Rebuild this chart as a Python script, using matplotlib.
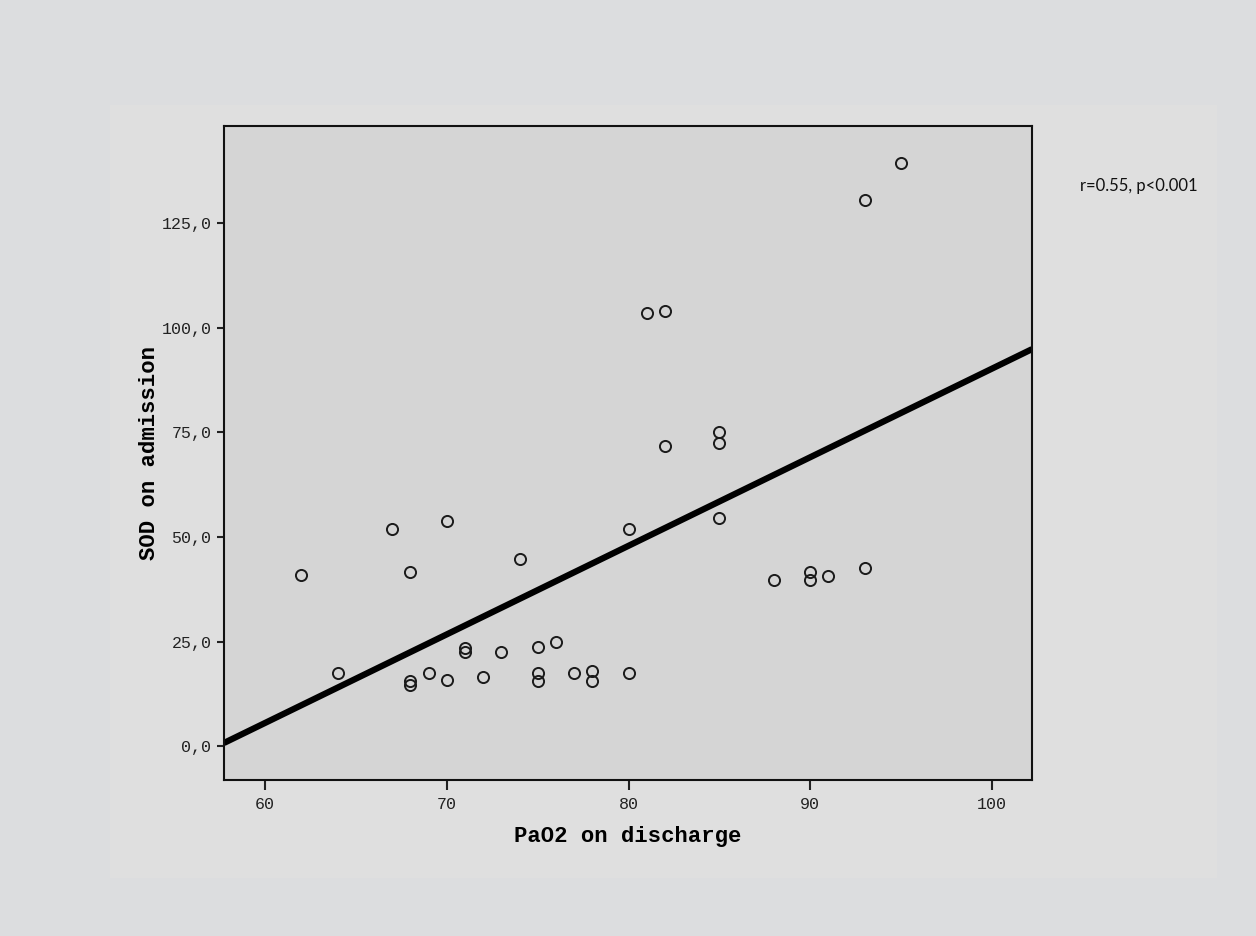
import numpy as np
import matplotlib
matplotlib.use("Agg")
import matplotlib.pyplot as plt
from matplotlib.patches import Rectangle

# values
pao2 = [62, 64, 67, 68, 68, 68, 69, 70, 70, 71, 71, 72, 73, 74, 75, 75, 75, 76,
        77, 78, 78, 80, 80, 81, 82, 82, 85, 85, 85, 88, 90, 90, 91, 93, 93, 95]
sod = [41.0, 17.5, 52.0, 41.7, 15.5, 14.6, 17.5, 53.7, 15.8, 23.5, 22.4, 16.5,
       22.5, 44.8, 23.7, 17.5, 15.5, 24.8, 17.5, 18.0, 15.5, 17.5, 51.8, 103.4,
       104.0, 71.8, 75.0, 72.5, 54.5, 39.6, 41.7, 39.8, 40.7, 42.6, 130.5, 139.4]

x_ticks = [60, 70, 80, 90, 100]
y_ticks = [0, 25, 50, 75, 100, 125]
note = "r=0.55, p<0.001"

mono = "Liberation Mono"

fig = plt.figure(figsize=(12.56, 9.36), dpi=100, facecolor="#dcdddf")
# lighter inner panel like the SPSS chart frame
fig.patches.append(Rectangle((110 / 1256, 1 - 878 / 936), 1107 / 1256, 773 / 936,
                             transform=fig.transFigure, facecolor="#dfdfdf",
                             edgecolor="none", zorder=-5))

ax = fig.add_axes([224 / 1256, 1 - 780 / 936, 808 / 1256, 654 / 936])
ax.set_facecolor("#d5d5d5")

x = np.array(pao2, dtype=float)
y = np.array(sod)
ax.plot(x, y, "o", ms=8, mfc="none", mec="#1a1a1a", mew=1.4, zorder=3)

# linear fit line across the full x range
m, b = np.polyfit(x, y, 1)
xlim = (57.74, 102.2)
xs = np.array(xlim)
ax.plot(xs, m * xs + b, color="black", lw=4.5, solid_capstyle="butt", zorder=2)

ax.set_xlim(*xlim)
ax.set_ylim(-8.1, 148.2)
ax.set_xticks(x_ticks)
ax.set_xticklabels([str(v) for v in x_ticks], fontfamily=mono, fontsize=12)
ax.set_yticks(y_ticks)
ax.set_yticklabels([("%.1f" % v).replace(".", ",") for v in y_ticks],
                   fontfamily=mono, fontsize=12)
ax.tick_params(axis="x", length=7, width=1.5, pad=5, colors="#222222")
ax.tick_params(axis="y", length=5, width=1.5, pad=4, colors="#222222")

for s in ax.spines.values():
    s.set_linewidth(1.5)
    s.set_color("#111111")

ax.set_xlabel("PaO2 on discharge", fontfamily=mono, fontweight="bold",
              fontsize=16, labelpad=10)
ax.set_ylabel("SOD on admission", fontfamily=mono, fontweight="bold",
              fontsize=16, labelpad=1)

fig.text(1139 / 1256, 1 - 186 / 936, note, fontfamily="Lato", fontsize=12,
         ha="center", va="center", color="#111111")

fig.savefig("out.png", dpi=100, facecolor=fig.get_facecolor())
